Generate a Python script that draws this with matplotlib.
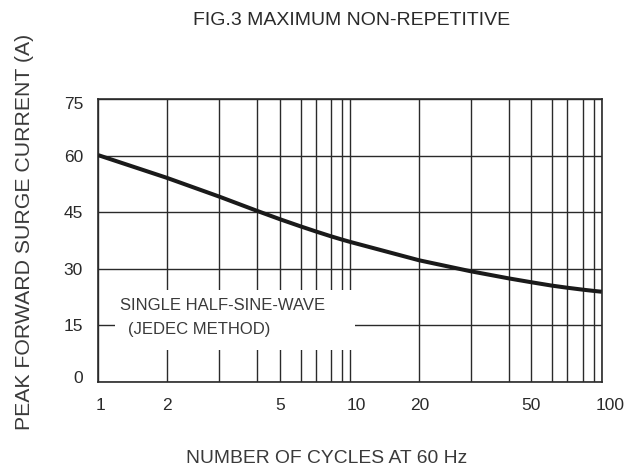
import matplotlib
matplotlib.use("Agg")
import matplotlib.pyplot as plt
import matplotlib.transforms as mtransforms
from matplotlib.patches import Rectangle
from matplotlib.ticker import NullLocator
import numpy as np

plt.rcParams['font.family'] = ['Liberation Sans', 'DejaVu Sans']

# ---- data ----
cycles = [1, 2, 3, 4, 5, 6, 7, 8, 9, 10, 20, 30, 40, 50, 60, 70, 80, 90, 100]
current = [60.1, 54.1, 49.1, 45.3, 43.1, 41.2, 39.85, 38.6, 37.7, 37.1,
           32.2, 29.3, 27.4, 26.4, 25.5, 24.95, 24.42, 24.07, 23.87]
yticks = [0, 15, 30, 45, 60, 75]
xtick_vals = [1, 2, 5, 10, 20, 50, 100]
xtick_labels = ["1", "2", "5", "10", "20", "50", "100"]
vgrid = [1, 2, 3, 4, 5, 6, 7, 8, 9, 10, 20, 30, 40, 50, 60, 70, 80, 90, 100]

# the printed log-paper grid of the original is slightly irregular:
# relative position (0..1) of each grid line across the axis
grid_rel = np.array([0.0, 0.1359, 0.2404, 0.3159, 0.3610, 0.4021, 0.4325,
                     0.4617, 0.4842, 0.5000, 0.6377, 0.7398, 0.8159, 0.8596,
                     0.9007, 0.9305, 0.9623, 0.9853, 1.0])
grid_log = np.log10(vgrid)


def fwd(x):
    x = np.asarray(x, dtype=float)
    lx = np.log10(np.clip(x, 1e-12, None))
    return np.interp(lx, grid_log, grid_rel)


def inv(f):
    f = np.asarray(f, dtype=float)
    return 10 ** np.interp(f, grid_rel, grid_log)


fig = plt.figure(figsize=(6.28, 4.73), dpi=100)
ax = fig.add_axes([0.1565, 0.193, 0.8016, 0.5977])
ax.set_xscale('function', functions=(fwd, inv))
ax.set_xlim(1, 100)
ax.set_ylim(0, 75)

gc = '#2a2a2a'
for v in vgrid:
    ax.axvline(v, color=gc, lw=1.0, zorder=1)
for h in yticks:
    ax.axhline(h, color=gc, lw=1.0, zorder=1)

ax.plot(cycles, current, color='#1a1a1a', lw=2.9, zorder=3,
        solid_joinstyle='round', solid_capstyle='butt')

ax.add_patch(Rectangle((1.184, 8.4), 10.5 - 1.184, 24.3 - 8.4, facecolor='white',
                       edgecolor='none', zorder=2))
ax.text(0.0431, 0.2713, "SINGLE HALF-SINE-WAVE", transform=ax.transAxes,
        fontsize=12, color='#3a3a3a', va='center', ha='left', zorder=4)
ax.text(0.0596, 0.1854, "(JEDEC METHOD)", transform=ax.transAxes,
        fontsize=12, color='#3a3a3a', va='center', ha='left', zorder=4)

for s in ax.spines.values():
    s.set_color(gc)
    s.set_linewidth(1.2)

ax.set_xticks(xtick_vals)
ax.set_xticklabels(xtick_labels)
ax.xaxis.set_minor_locator(NullLocator())
ax.set_yticks(yticks)
ax.set_yticklabels([str(t) for t in yticks])
ax.tick_params(length=0, labelsize=12.5, colors='#2a2a2a')
ax.tick_params(axis='y', pad=11)
ax.tick_params(axis='x', pad=12)

# small label offsets as printed in the original
xoff = {"1": 2.4, "10": 6.7, "100": 8.3}
for lab in ax.get_xticklabels():
    dx = xoff.get(lab.get_text(), 0)
    if dx:
        lab.set_transform(lab.get_transform() +
                          mtransforms.ScaledTranslation(dx / 100, 0, fig.dpi_scale_trans))
yoff = {"75": -3.7, "0": 5.0}
for lab in ax.get_yticklabels():
    dy = yoff.get(lab.get_text(), 0)
    if dy:
        lab.set_transform(lab.get_transform() +
                          mtransforms.ScaledTranslation(0, dy / 100, fig.dpi_scale_trans))

fig.text(0.0398, 0.5095, "PEAK FORWARD SURGE CURRENT (A)", rotation=90,
         fontsize=15.3, color='#3a3a3a', ha='center', va='center')
fig.text(0.5207, 0.0317, "NUMBER OF CYCLES AT 60 Hz", fontsize=13.9,
         color='#3a3a3a', ha='center', va='center')
fig.text(0.5605, 0.9577, "FIG.3 MAXIMUM NON-REPETITIVE", fontsize=14,
         color='#2a2a2a', ha='center', va='center')

fig.savefig("out.png", dpi=100)
